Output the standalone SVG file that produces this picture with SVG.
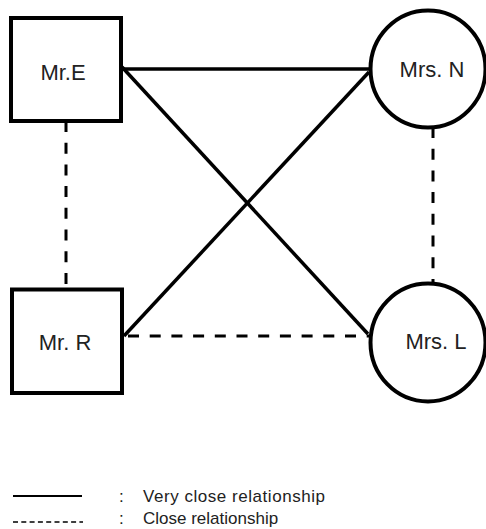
<svg xmlns="http://www.w3.org/2000/svg" width="486" height="529" viewBox="0 0 486 529">
<style>
.shape{fill:#fff;stroke:#000;stroke-width:4}
.solid{stroke:#000;stroke-width:3.5;fill:none}
.dash{stroke:#000;stroke-width:3;fill:none;stroke-dasharray:11 10.7}
.lbl{font-family:"Liberation Sans",Arial,sans-serif;font-size:22px;fill:#222;text-anchor:middle}
.leg{font-family:"Liberation Sans",Arial,sans-serif;font-size:17px;fill:#222}
</style>
<rect width="486" height="529" fill="#fff"/>
<g id="connectors">
<line class="solid" x1="121" y1="69" x2="370" y2="69"/>
<line class="solid" x1="122" y1="67" x2="368" y2="334"/>
<line class="solid" x1="124" y1="336" x2="369" y2="72"/>
<line class="dash" x1="124" y1="336" x2="370" y2="336" stroke-dashoffset="-4"/>
<line class="dash" x1="66" y1="121" x2="66" y2="289"/>
<line class="dash" x1="433" y1="127" x2="433" y2="284"/>
</g>
<g id="mrE">
<rect class="shape" x="11" y="18" width="110" height="103"/>
<text class="lbl" x="63" y="80">Mr.E</text>
</g>
<g id="mrsN">
<ellipse class="shape" cx="428" cy="69" rx="57.5" ry="58.5" stroke-width="3.5"/>
<text class="lbl" x="432" y="77">Mrs. N</text>
</g>
<g id="mrR">
<rect class="shape" x="12" y="289.5" width="110" height="103.5"/>
<text class="lbl" x="65" y="350">Mr. R</text>
</g>
<g id="mrsL">
<ellipse class="shape" cx="428" cy="342.5" rx="57.5" ry="59" stroke-width="3.5"/>
<text class="lbl" x="436" y="349">Mrs. L</text>
</g>
<g id="legend">
<line x1="13" y1="496" x2="82" y2="496" stroke="#000" stroke-width="2"/>
<text class="leg" x="119" y="502">:</text>
<text class="leg" x="143" y="502" textLength="182">Very close relationship</text>
<line x1="13" y1="522" x2="83" y2="522" stroke="#000" stroke-width="1.3" stroke-dasharray="5 3.3"/>
<text class="leg" x="119" y="524">:</text>
<text class="leg" x="143" y="524">Close relationship</text>
</g>
</svg>
